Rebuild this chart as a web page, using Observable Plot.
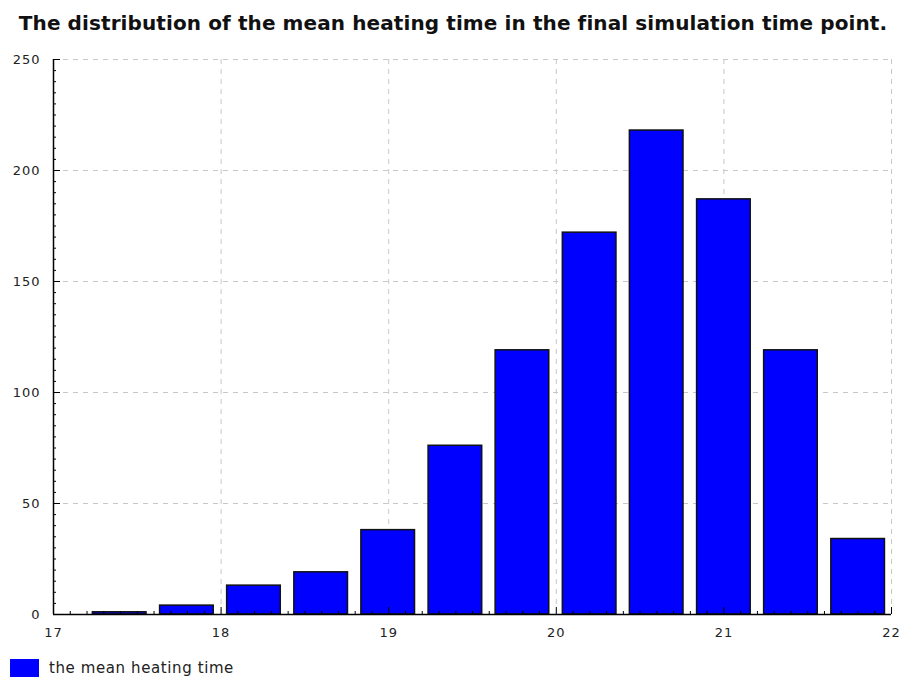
<!DOCTYPE html>
<html><head><meta charset="utf-8">
<script src="https://cdn.jsdelivr.net/npm/d3@7"></script>
<script src="https://cdn.jsdelivr.net/npm/@observablehq/plot@0.6"></script>
<style>
body{margin:0;background:#fff;width:906px;height:681px;position:relative;overflow:hidden;font-family:"DejaVu Sans",sans-serif}
#title{position:absolute;left:0;top:11px;width:906px;text-align:center;font-weight:bold;font-size:20px;line-height:24px;letter-spacing:0.1px;color:#111;white-space:nowrap}
#chart{position:absolute;left:0;top:45px}
#legend{position:absolute;left:10px;top:659px;height:18px;display:flex;align-items:center;font-size:15px;letter-spacing:0.6px;color:#222}
#legend .sw{width:29px;height:18px;background:#0000ff;margin-right:10px;display:inline-block}
</style></head>
<body>
<div id="title">The distribution of the mean heating time in the final simulation time point.</div>
<div id="chart"></div>
<div id="legend"><span class="sw"></span><span>the mean heating time</span></div>
<script>
// bin centres (mean heating time) and counts
const binCenters = [17.395, 17.796, 18.196, 18.597, 18.997, 19.398, 19.798, 20.199, 20.599, 21.000, 21.400, 21.801];
const counts     = [1, 4, 13, 19, 38, 76, 119, 172, 218, 187, 119, 34];
const xTicks = [17, 18, 19, 20, 21, 22];
const yTicks = [0, 50, 100, 150, 200, 250];

const data = binCenters.map((c, i) => ({c, n: counts[i]}));
const halfBar = 0.16;

const W = 906, H = 605, mL = 53, mR = 15, mT = 14, mB = 36;
const plotW = W - mL - mR, plotH = H - mT - mB;
const xMinor = d3.range(170, 221).map(d => d / 10).filter(d => !xTicks.includes(d));
const yMinor = d3.range(0, 251, 5).filter(d => !yTicks.includes(d));
const grid = {stroke: "#c8c8c8", strokeOpacity: 1, strokeDasharray: "5,5", strokeWidth: 1};

const chart = Plot.plot({
  width: W, height: H,
  marginLeft: mL, marginRight: mR, marginTop: mT, marginBottom: mB,
  style: {fontFamily: "DejaVu Sans, sans-serif", fontSize: "13px", letterSpacing: "1px", color: "#222", background: "#fff"},
  x: {domain: [17, 22]},
  y: {domain: [0, 250]},
  marks: [
    Plot.gridX(xTicks.filter(d => d > 17), grid),
    Plot.gridY(yTicks.filter(d => d > 0), grid),
    Plot.rectY(data, {x1: d => d.c - halfBar, x2: d => d.c + halfBar, y: "n", fill: "#0000ff", stroke: "#111", strokeWidth: 1.5}),
    Plot.tickX(xMinor, {x: d => d, insetTop: plotH - 3, stroke: "#000", strokeWidth: 1}),
    Plot.tickX(xTicks, {x: d => d, insetTop: plotH - 7, stroke: "#000", strokeWidth: 1}),
    Plot.tickY(yMinor, {y: d => d, insetRight: plotW - 3, stroke: "#000", strokeWidth: 1}),
    Plot.tickY(yTicks, {y: d => d, insetRight: plotW - 7, stroke: "#000", strokeWidth: 1}),
    Plot.ruleY([0], {stroke: "#000", strokeWidth: 1.5}),
    Plot.ruleX([17], {stroke: "#000", strokeWidth: 1.5}),
    Plot.axisX(xTicks, {tickSize: 0, tickPadding: 13, label: null, fill: "#222", tickFormat: d => String(d)}),
    Plot.axisY(yTicks, {tickSize: 0, tickPadding: 13, label: null, fill: "#222", tickFormat: d => String(d)})
  ]
});
document.getElementById("chart").appendChild(chart);
</script>
</body></html>
